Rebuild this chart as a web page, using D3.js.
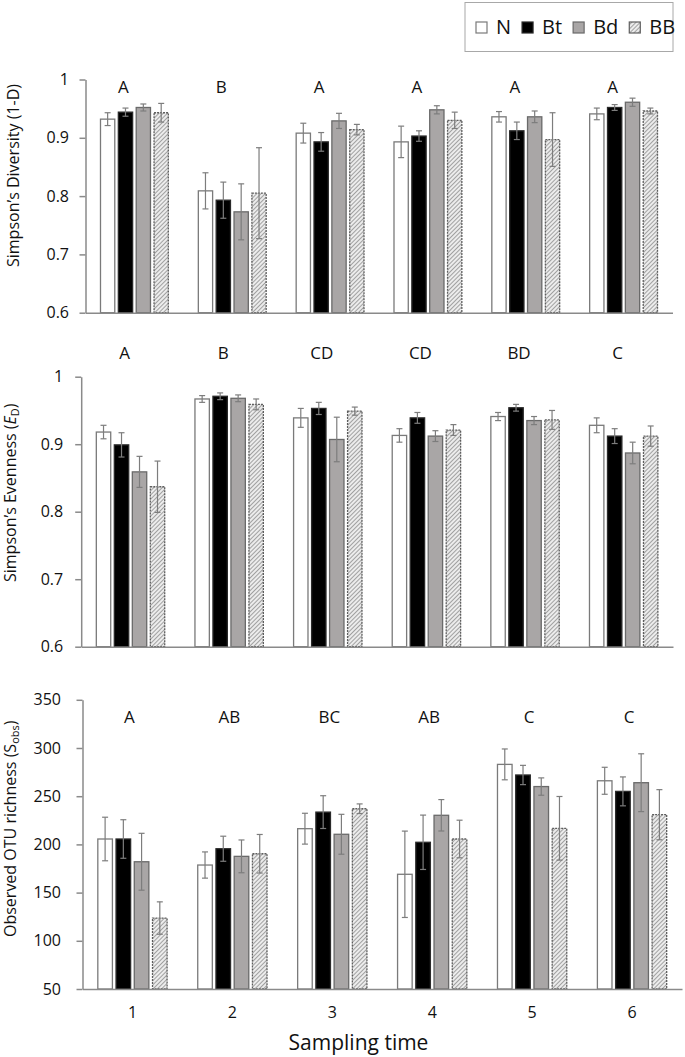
<!DOCTYPE html>
<html>
<head>
<meta charset="utf-8">
<script src="https://cdn.jsdelivr.net/npm/d3@7"></script>
<style>
  html, body { margin: 0; padding: 0; background: #fff; }
  svg { display: block; }
  text { font-family: "Open Sans", "DejaVu Sans", sans-serif; fill: #111; }
</style>
</head>
<body>
<svg id="chart" width="685" height="1057"></svg>
<script>
// ---------------- DATA ----------------
const groups = ["1", "2", "3", "4", "5", "6"];
const series = ["N", "Bt", "Bd", "BB"];

// Simpson's Diversity (1-D): [group][series]
const divMeans = [
  [0.932, 0.944, 0.952, 0.943],
  [0.809, 0.793, 0.773, 0.805],
  [0.908, 0.893, 0.929, 0.914],
  [0.893, 0.903, 0.948, 0.930],
  [0.936, 0.912, 0.936, 0.897],
  [0.941, 0.952, 0.961, 0.946]
];
const divErr = [
  [0.011, 0.007, 0.006, 0.016],
  [0.031, 0.031, 0.048, 0.078],
  [0.017, 0.016, 0.013, 0.009],
  [0.027, 0.009, 0.007, 0.014],
  [0.009, 0.015, 0.010, 0.046],
  [0.010, 0.005, 0.007, 0.005]
];
const divLetters = ["A", "B", "A", "A", "A", "A"];
const divTicks = [0.6, 0.7, 0.8, 0.9, 1];

// Simpson's Evenness (E_D)
const evenMeans = [
  [0.918, 0.899, 0.859, 0.837],
  [0.967, 0.971, 0.968, 0.959],
  [0.939, 0.953, 0.907, 0.949],
  [0.913, 0.939, 0.912, 0.921],
  [0.941, 0.954, 0.935, 0.936],
  [0.928, 0.912, 0.887, 0.912]
];
const evenErr = [
  [0.010, 0.018, 0.023, 0.038],
  [0.005, 0.005, 0.005, 0.008],
  [0.014, 0.009, 0.033, 0.006],
  [0.010, 0.008, 0.008, 0.008],
  [0.006, 0.005, 0.006, 0.014],
  [0.011, 0.011, 0.016, 0.015]
];
const evenLetters = ["A", "B", "CD", "CD", "BD", "C"];
const evenTicks = [0.6, 0.7, 0.8, 0.9, 1];

// Observed OTU richness (S_obs)
const richMeans = [
  [205.6, 205.6, 182.0, 123.6],
  [178.6, 195.5, 187.6, 190.3],
  [216.3, 233.5, 210.5, 237.0],
  [169.0, 202.2, 230.2, 205.6],
  [283.0, 272.0, 260.0, 216.7],
  [266.0, 255.0, 264.0, 230.8]
];
const richErr = [
  [22.6, 20.0, 29.5, 16.8],
  [13.6, 13.0, 17.0, 20.0],
  [16.0, 17.0, 20.7, 5.0],
  [44.8, 28.2, 16.3, 19.5],
  [16.0, 10.0, 9.0, 33.0],
  [14.0, 15.0, 30.0, 26.0]
];
const richLetters = ["A", "AB", "BC", "AB", "C", "C"];
const richTicks = [50, 100, 150, 200, 250, 300, 350];

const xTitle = "Sampling time";

// ---------------- STYLE / LAYOUT ----------------
const svg = d3.select("#chart");
const axisColor = "#8a8a8a";
const errColor = "#7d7d7d";

const defs = svg.append("defs");
const pat = defs.append("pattern")
  .attr("id", "hatch")
  .attr("patternUnits", "userSpaceOnUse")
  .attr("width", 3).attr("height", 3)
  .attr("patternTransform", "rotate(45)");
pat.append("rect").attr("width", 3).attr("height", 3).attr("fill", "#ececec");
pat.append("line").attr("x1", 0).attr("y1", 0).attr("x2", 0).attr("y2", 3)
  .attr("stroke", "#6f6f6f").attr("stroke-width", 1.2);

const barStyle = {
  N:  { fill: "#ffffff", stroke: "#7a7a7a", dash: null },
  Bt: { fill: "#000000", stroke: "#2a2a2a", dash: null },
  Bd: { fill: "#a9a6a6", stroke: "#6a6a6a", dash: null },
  BB: { fill: "url(#hatch)", stroke: "#5e5e5e", dash: "2,1" }
};

const panels = [
  { means: divMeans, errs: divErr, letters: divLetters, ticks: divTicks, domain: [0.6, 1],
    xl: 85.5, xr: 672.5, yt: 79.5, yb: 312.7, pad: 10.5, letterY: 93, letterDx: -11,
    titleX: 18.5, titleY: 267, title: [{ t: "Simpson’s Diversity (1-D)" }] },
  { means: evenMeans, errs: evenErr, letters: evenLetters, ticks: evenTicks, domain: [0.6, 1],
    xl: 81.2, xr: 673, yt: 376.7, yb: 646.7, pad: 12, letterY: 359, letterDx: -6,
    titleX: 15.5, titleY: 582,
    title: [{ t: "Simpson’s Evenness (" }, { t: "E", italic: true }, { t: "D", sub: true }, { t: ")" }] },
  { means: richMeans, errs: richErr, letters: richLetters, ticks: richTicks, domain: [50, 350],
    xl: 82.5, xr: 682, yt: 699.8, yb: 989, pad: 15.5, letterY: 723, letterDx: -3,
    titleX: 15.5, titleY: 937, xLabels: true,
    title: [{ t: "Observed OTU richness (S" }, { t: "obs", sub: true }, { t: ")" }] }
];

panels.forEach(p => {
  const g = svg.append("g");
  const x0 = d3.scaleBand().domain(groups).range([p.xl, p.xr]).padding(0);
  const x1 = d3.scaleBand().domain(series).range([0, x0.bandwidth()])
    .paddingInner(0.2).paddingOuter(0.84);
  const y = d3.scaleLinear().domain(p.domain).range([p.yb, p.yt]);

  // bars
  groups.forEach((grp, gi) => {
    series.forEach((s, si) => {
      const v = p.means[gi][si];
      const st = barStyle[s];
      g.append("rect")
        .attr("x", x0(grp) + x1(s))
        .attr("y", y(v))
        .attr("width", x1.bandwidth())
        .attr("height", y(p.domain[0]) - y(v))
        .attr("fill", st.fill)
        .attr("stroke", st.stroke)
        .attr("stroke-width", 1.3)
        .attr("stroke-dasharray", st.dash);
    });
  });

  // error bars
  groups.forEach((grp, gi) => {
    series.forEach((s, si) => {
      const v = p.means[gi][si], e = p.errs[gi][si];
      const cx = x0(grp) + x1(s) + x1.bandwidth() / 2;
      const y1 = y(Math.max(p.domain[0], v - e)), y2 = y(v + e);
      g.append("line").attr("x1", cx).attr("x2", cx).attr("y1", y1).attr("y2", y2)
        .attr("stroke", errColor).attr("stroke-width", 1.2);
      [y1, y2].forEach(yy => {
        g.append("line").attr("x1", cx - 3).attr("x2", cx + 3).attr("y1", yy).attr("y2", yy)
          .attr("stroke", errColor).attr("stroke-width", 1.2);
      });
    });
  });

  // y axis
  const ya = g.append("g").attr("transform", `translate(${p.xl},0)`)
    .call(d3.axisLeft(y).tickValues(p.ticks).tickSize(6).tickSizeOuter(0).tickPadding(p.pad)
      .tickFormat(d => String(d)));
  ya.select(".domain").attr("stroke", axisColor).attr("stroke-width", 1.5);
  ya.selectAll(".tick line").attr("stroke", axisColor).attr("stroke-width", 1.5);
  ya.selectAll(".tick text").attr("font-size", 16).attr("font-family", "Open Sans").attr("fill", "#111");

  // x axis
  const xa = g.append("g").attr("transform", `translate(0,${p.yb})`)
    .call(d3.axisBottom(x0).tickSize(0).tickSizeOuter(0).tickPadding(17.6));
  xa.select(".domain").attr("stroke", axisColor).attr("stroke-width", 1.5);
  xa.selectAll(".tick text").attr("font-size", 16).attr("font-family", "Open Sans").attr("fill", "#111");
  if (!p.xLabels) xa.selectAll(".tick text").remove();

  // significance letters
  g.selectAll(".letter").data(p.letters).join("text")
    .attr("x", (d, i) => x0(groups[i]) + x0.bandwidth() / 2 + p.letterDx)
    .attr("y", p.letterY)
    .attr("text-anchor", "middle")
    .attr("font-size", 17)
    .text(d => d);

  // y title
  const tt = g.append("text")
    .attr("transform", `translate(${p.titleX},${p.titleY}) rotate(-90)`)
    .attr("text-anchor", "start")
    .attr("font-size", 16);
  p.title.forEach(part => {
    const ts = tt.append("tspan").text(part.t);
    if (part.italic) ts.attr("font-style", "italic");
    if (part.sub) ts.attr("font-size", 11).attr("baseline-shift", "-25%");
  });
});

// x title
svg.append("text").attr("x", 358.5).attr("y", 1050).attr("text-anchor", "middle")
  .attr("font-size", 21).text(xTitle);

// legend
const lg = svg.append("g");
lg.append("rect").attr("x", 465).attr("y", 2.5).attr("width", 208).attr("height", 49)
  .attr("fill", "#fff").attr("stroke", "#a8a8a8").attr("stroke-width", 1);
let lx = 476;
series.forEach(s => {
  const st = barStyle[s];
  lg.append("rect").attr("x", lx).attr("y", 22).attr("width", 11).attr("height", 11)
    .attr("fill", st.fill).attr("stroke", st.stroke).attr("stroke-width", 1.2);
  const t = lg.append("text").attr("x", lx + 20).attr("y", 34.3).attr("font-size", 20).text(s);
  lx = lx + 20 + t.node().getComputedTextLength() + 11;
});
</script>
</body>
</html>
